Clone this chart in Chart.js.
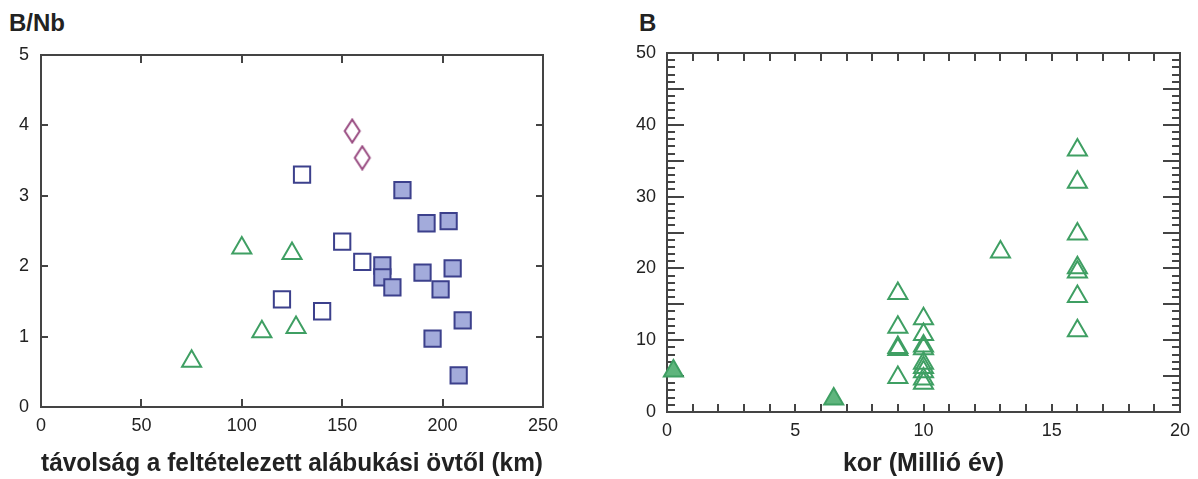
<!DOCTYPE html>
<html>
<head>
<meta charset="utf-8">
<script src="https://cdn.jsdelivr.net/npm/chart.js@4"></script>
<style>
  body { margin: 0; background: #fff; width: 1198px; height: 479px; position: relative; overflow: hidden; }
  .wrap { position: absolute; top: 0; height: 479px; }
  .panel { position: absolute; top: 11px; font: bold 24px "Liberation Sans", Arial, sans-serif; color: #222; line-height: 24px; }
</style>
</head>
<body>
<div class="panel" style="left:9px">B/Nb</div>
<div class="panel" style="left:639px">B</div>
<div class="wrap" style="left:0;width:560px"><canvas id="grafBal"></canvas></div>
<div class="wrap" style="left:600px;width:598px"><canvas id="grafJobb"></canvas></div>
<script>
// ---- bal panel: B/Nb vs távolság ----
const tavHaromszog = [75, 100, 110, 125, 127];
const bnbHaromszog = [0.65, 2.26, 1.07, 2.18, 1.13];

const tavNegyzetUres = [120, 130, 140, 150, 160];
const bnbNegyzetUres = [1.53, 3.30, 1.36, 2.35, 2.06];

const tavNegyzetTeli = [170, 170, 175, 180, 190, 192, 195, 199, 203, 205, 208, 210];
const bnbNegyzetTeli = [2.01, 1.84, 1.70, 3.08, 1.91, 2.61, 0.97, 1.67, 2.64, 1.97, 0.45, 1.23];

const tavRombusz = [155, 160];
const bnbRombusz = [3.92, 3.54];

const tavTicks = [0, 50, 100, 150, 200, 250];
const bnbTicks = [0, 1, 2, 3, 4, 5];

// ---- jobb panel: B vs kor ----
const korTeli = [0.25, 6.5];
const bTeli = [5.7, 1.8];

const korUres = [9, 9, 9, 9, 9,
                 10, 10, 10, 10, 10, 10, 10, 10, 10,
                 13,
                 16, 16, 16, 16, 16, 16, 16];
const bUres = [16.5, 11.8, 9.0, 8.7, 4.8,
               13.0, 10.8, 9.2, 8.8, 6.8, 6.2, 5.6, 4.6, 4.0,
               22.3,
               36.5, 32.0, 24.8, 20.1, 19.5, 16.1, 11.3];

const korTicks = [0, 5, 10, 15, 20];
const bTicks = [0, 10, 20, 30, 40, 50];

const FONT = '"Liberation Sans", Arial, sans-serif';
const ZOLD = '#3f9f63';
const KEK = '#3c408c';

function pontok(xs, ys) {
    return xs.map((v, i) => ({ x: v, y: ys[i] }));
}

// keskeny rombusz jelölő
function rombuszKep() {
    const c = document.createElement('canvas');
    c.width = 20; c.height = 26;
    const g = c.getContext('2d');
    g.strokeStyle = '#984a80';
    g.lineWidth = 2;
    g.beginPath();
    g.moveTo(10, 1.5);
    g.lineTo(17.5, 13);
    g.lineTo(10, 24.5);
    g.lineTo(2.5, 13);
    g.closePath();
    g.stroke();
    return c;
}

// keret + befelé álló osztások
const keretPlugin = {
    id: 'keret',
    beforeDatasetsDraw(chart, args, opts) {
        const { ctx, chartArea: a, scales: { x, y } } = chart;
        ctx.save();
        ctx.strokeStyle = '#444';
        ctx.lineWidth = 2;
        ctx.beginPath();
        opts.xJelek.forEach(([lepes, hossz]) => {
            for (let v = x.min; v <= x.max + 1e-9; v += lepes) {
                const px = Math.round(x.getPixelForValue(v));
                ctx.moveTo(px, a.bottom); ctx.lineTo(px, a.bottom - hossz);
                ctx.moveTo(px, a.top); ctx.lineTo(px, a.top + hossz);
            }
        });
        opts.yJelek.forEach(([lepes, hossz]) => {
            for (let v = y.min; v <= y.max + 1e-9; v += lepes) {
                const py = Math.round(y.getPixelForValue(v));
                ctx.moveTo(a.left, py); ctx.lineTo(a.left + hossz, py);
                ctx.moveTo(a.right, py); ctx.lineTo(a.right - hossz, py);
            }
        });
        ctx.stroke();
        ctx.strokeRect(a.left, a.top, a.width, a.height);
        ctx.restore();
    }
};

function tengely(min, max, tickek, cim, meret, tickPad) {
    return {
        type: 'linear',
        min: min,
        max: max,
        afterBuildTicks: s => { s.ticks = tickek.map(v => ({ value: v })); },
        grid: { display: false, drawTicks: false },
        border: { display: false },
        ticks: { color: '#222', font: { family: FONT, size: 18 }, padding: tickPad },
        title: cim ? { display: true, text: cim, color: '#222', font: { family: FONT, size: 25, weight: 'bold' }, padding: { top: 0, bottom: 0 } } : { display: false },
        afterFit: s => {
            if (s.isHorizontal()) s.height = meret; else s.width = meret;
            s.paddingLeft = 0; s.paddingRight = 0; s.paddingTop = 0; s.paddingBottom = 0;
        }
    };
}

const kozos = {
    responsive: false,
    animation: false,
    events: [],
    plugins: { legend: { display: false }, tooltip: { enabled: false } }
};

const cBal = document.getElementById('grafBal');
cBal.width = 560; cBal.height = 479;
new Chart(cBal, {
    type: 'scatter',
    data: {
        datasets: [
            { data: pontok(tavHaromszog, bnbHaromszog), pointStyle: 'triangle', pointRadius: 11, borderWidth: 2, borderColor: ZOLD, backgroundColor: 'rgba(0,0,0,0)', clip: false },
            { data: pontok(tavNegyzetUres, bnbNegyzetUres), pointStyle: 'rect', pointRadius: 11.5, borderWidth: 2, borderColor: KEK, backgroundColor: 'rgba(0,0,0,0)', clip: false },
            { data: pontok(tavNegyzetTeli, bnbNegyzetTeli), pointStyle: 'rect', pointRadius: 11.5, borderWidth: 2, borderColor: KEK, backgroundColor: '#a3abdb', clip: false },
            { data: pontok(tavRombusz, bnbRombusz), pointStyle: rombuszKep(), clip: false }
        ]
    },
    options: {
        ...kozos,
        layout: { padding: { top: 55, right: 17, left: 0, bottom: 0 } },
        scales: {
            x: tengely(0, 250, tavTicks, 'távolság a feltételezett alábukási övtől (km)', 72, 8),
            y: tengely(0, 5, bnbTicks, null, 41, 12)
        },
        plugins: { ...kozos.plugins, keret: { xJelek: [[50, 8]], yJelek: [[1, 7]] } }
    },
    plugins: [keretPlugin]
});

const cJobb = document.getElementById('grafJobb');
cJobb.width = 598; cJobb.height = 479;
new Chart(cJobb, {
    type: 'scatter',
    data: {
        datasets: [
            { data: pontok(korTeli, bTeli), pointStyle: 'triangle', pointRadius: 11, borderWidth: 2, borderColor: ZOLD, backgroundColor: '#5fb57d', clip: false },
            { data: pontok(korUres, bUres), pointStyle: 'triangle', pointRadius: 11, borderWidth: 2, borderColor: ZOLD, backgroundColor: 'rgba(0,0,0,0)', clip: false }
        ]
    },
    options: {
        ...kozos,
        layout: { padding: { top: 53, right: 18, left: 0, bottom: 0 } },
        scales: {
            x: tengely(0, 20, korTicks, 'kor (Millió év)', 67, 8),
            y: tengely(0, 50, bTicks, null, 67, 11)
        },
        plugins: { ...kozos.plugins, keret: { xJelek: [[1, 8]], yJelek: [[1, 8], [5, 17]] } }
    },
    plugins: [keretPlugin]
});
</script>
</body>
</html>
